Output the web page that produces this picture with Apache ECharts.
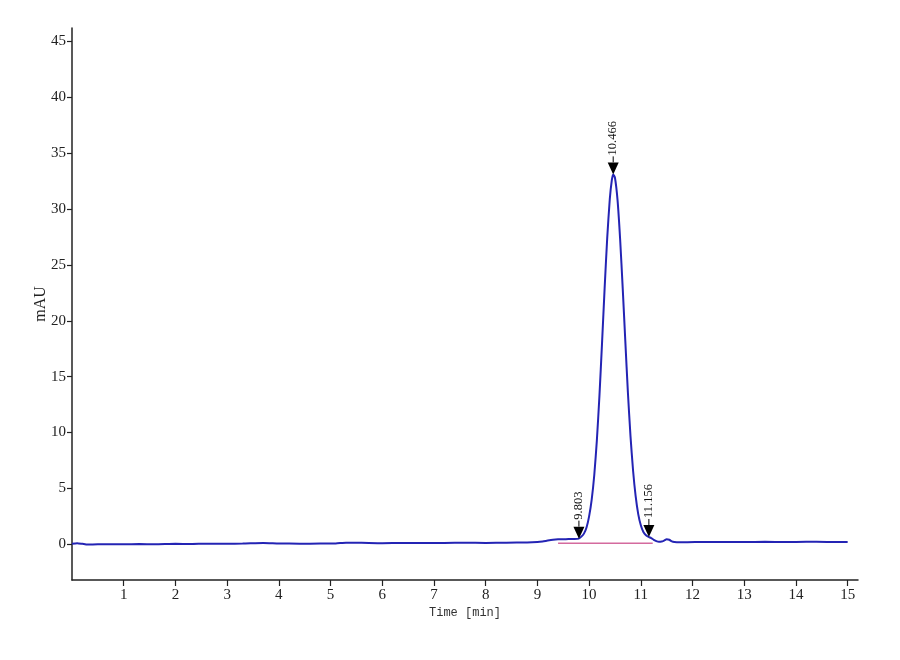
<!DOCTYPE html>
<html><head><meta charset="utf-8">
<script src="https://cdn.jsdelivr.net/npm/echarts@6/dist/echarts.min.js"></script>
<style>html,body{margin:0;background:#fff}#c{width:900px;height:660px}</style>
</head><body><div id="c"></div>
<script>
const timeMin = [0.0,0.1,0.2,0.3,0.4,0.6,0.8,1.0,1.3,1.6,2.0,2.3,2.6,3.0,3.3,3.7,4.0,4.4,4.8,5.1,5.3,5.6,6.0,6.4,6.8,7.2,7.6,8.0,8.4,8.8,
  9.0,9.1,9.2,9.3,9.4,9.5,9.6,9.7,9.8,9.85,9.9,9.95,10.0,10.05,10.1,10.15,10.2,10.25,10.3,10.35,10.4,10.44,10.466,
  10.5,10.55,10.6,10.65,10.7,10.75,10.8,10.85,10.9,10.95,11.0,11.05,11.1,11.15,11.2,11.25,11.3,11.35,11.4,11.45,11.5,11.55,11.6,11.65,11.75,11.9,
  12.2,12.6,13.0,13.4,13.8,14.2,14.6,15.0];
const signalMAU = [0.05,0.1,0.04,-0.03,-0.02,0.0,0.01,0.0,0.02,0.0,0.04,0.02,0.05,0.05,0.06,0.12,0.07,0.05,0.06,0.07,0.14,0.13,0.1,0.11,0.12,0.12,0.13,0.12,0.14,0.16,
  0.2,0.25,0.33,0.4,0.44,0.45,0.46,0.47,0.5,0.68,0.95,1.5,2.5,4.0,6.2,9.3,13.3,18.0,22.9,27.4,30.9,32.6,33.1,
  32.8,30.8,27.3,22.9,18.2,13.6,9.7,6.6,4.3,2.7,1.7,1.1,0.8,0.65,0.55,0.4,0.28,0.22,0.24,0.33,0.45,0.4,0.25,0.2,0.18,0.18,
  0.2,0.19,0.2,0.22,0.2,0.22,0.21,0.2];
const baselineTime = [9.4, 11.23];
const baselineValue = [0.1, 0.1];
const peakTimes = [9.803, 10.466, 11.156];
const peakValues = [0.5, 33.1, 0.65];
const peakLabels = ['9.803', '10.466', '11.156'];
const xTicks = [1,2,3,4,5,6,7,8,9,10,11,12,13,14,15];
const yTicks = [0,5,10,15,20,25,30,35,40,45];

const chart = echarts.init(document.getElementById('c'));
const axisColor = '#222';
chart.setOption({
  animation: false,
  backgroundColor: '#fff',
  grid: {left: 72, right: 42, top: 28, bottom: 80},
  xAxis: {
    type: 'value', min: 0, max: 15.2,
    name: 'Time [min]', nameLocation: 'middle', nameGap: 27, nameMoveOverlap: false,
    nameTextStyle: {fontFamily: 'Liberation Mono', fontSize: 12, color: '#333'},
    axisLine: {show: true, onZero: false, lineStyle: {color: axisColor, width: 1.5}},
    axisTick: {show: true, customValues: xTicks, length: 6, lineStyle: {color: axisColor, width: 1.2}},
    axisLabel: {customValues: xTicks, fontFamily: 'Liberation Serif', fontSize: 15, color: '#222', margin: 8},
    splitLine: {show: false}
  },
  yAxis: {
    type: 'value', min: -3.2, max: 46.2,
    name: 'mAU', nameLocation: 'middle', nameGap: 23, nameMoveOverlap: false,
    nameTextStyle: {fontFamily: 'Liberation Serif', fontSize: 16, color: '#222'},
    axisLine: {show: true, onZero: false, lineStyle: {color: axisColor, width: 1.5}},
    axisTick: {show: true, customValues: yTicks, length: 5, lineStyle: {color: axisColor, width: 1.2}},
    axisLabel: {customValues: yTicks, fontFamily: 'Liberation Serif', fontSize: 15, color: '#222', margin: 6},
    splitLine: {show: false}
  },
  series: [
    {
      type: 'line', z: 1, showSymbol: false, silent: true,
      data: baselineTime.map((t, i) => [t, baselineValue[i]]),
      lineStyle: {color: '#d46a9e', width: 1.5}
    },
    {
      type: 'line', z: 2, showSymbol: false, silent: true, smooth: 0.2,
      data: timeMin.map((t, i) => [t, signalMAU[i]]),
      lineStyle: {color: '#2424b4', width: 2}
    },
    {
      type: 'custom', z: 5, silent: true, clip: false,
      data: peakTimes.map((t, i) => [t, peakValues[i]]),
      renderItem: function (params, api) {
        const p = api.coord([api.value(0), api.value(1)]);
        const x = p[0], y = p[1];
        return {
          type: 'group',
          children: [
            {type: 'polygon', shape: {points: [[x - 5.5, y - 12], [x + 5.5, y - 12], [x, y]]}, style: {fill: '#000'}},
            {type: 'line', shape: {x1: x, y1: y - 12, x2: x, y2: y - 18}, style: {stroke: '#000', lineWidth: 1}},
            {type: 'text', x: x, y: y - 19, rotation: Math.PI / 2,
              style: {text: peakLabels[params.dataIndex], fill: '#111', font: '12.5px "Liberation Serif"', align: 'left', verticalAlign: 'middle'}}
          ]
        };
      }
    }
  ]
});
</script>
</body></html>
